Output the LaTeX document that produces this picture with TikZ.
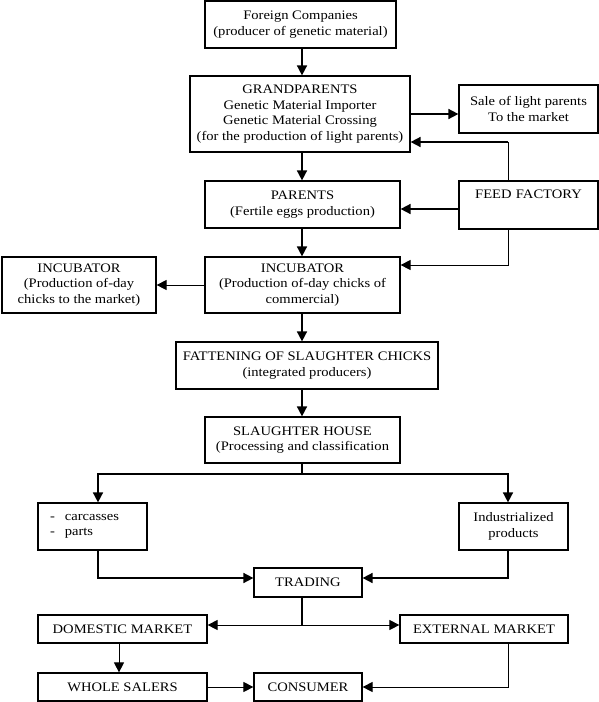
\documentclass[tikz,border=0pt]{standalone}
\usepackage{fontspec}
\setmainfont{Liberation Serif}[FakeStretch=1.12]
\usetikzlibrary{arrows.meta}
\begin{document}
\begin{tikzpicture}[x=1pt,y=-1pt,
  box/.style={draw,line width=1.2pt,align=center,inner sep=0pt,font=\fontsize{13}{15.5}\selectfont},
  thk/.style={line width=1.6pt},
  thn/.style={line width=0.9pt},
  >={Triangle[length=10pt,width=10pt]}]
\useasboundingbox (0,0) rectangle (599,702);
% boxes
\node[box,minimum width=191pt,minimum height=47pt] (fc) at (300.5,24.5) {Foreign Companies\\(producer of genetic material)};
\node[box,minimum width=220pt,minimum height=76pt] (gp) at (300,114) {GRANDPARENTS\\Genetic Material Importer\\Genetic Material Crossing\\(for the production of light parents)};
\node[box,minimum width=139pt,minimum height=48pt] (sale) at (528.5,109) {Sale of light parents\\To the market};
\node[box,minimum width=195pt,minimum height=47pt] (par) at (302.5,204.5) {PARENTS\\(Fertile eggs production)};
\node[box,minimum width=139pt,text width=139pt,text height=15pt,text depth=29pt,inner ysep=2pt] (feed) at (528.5,205) {FEED FACTORY};
\node[box,minimum width=195pt,minimum height=56pt] (inc) at (302.5,285) {INCUBATOR\\(Production of-day chicks of\\commercial)};
\node[box,minimum width=154pt,minimum height=56pt] (incl) at (79,285) {INCUBATOR\\(Production of-day\\chicks to the market)};
\node[box,minimum width=262pt,minimum height=47pt] (fat) at (307,365.5) {FATTENING OF SLAUGHTER CHICKS\\(integrated producers)};
\node[box,minimum width=195pt,minimum height=46pt] (sl) at (302.5,440) {SLAUGHTER HOUSE\\(Processing and classification};
\node[box,minimum width=109pt,minimum height=47pt,text width=85pt,align=left] (carc) at (92.5,526.5) {-\hspace{10pt}carcasses\\-\hspace{10pt}parts};
\node[box,minimum width=109pt,minimum height=47pt] (ind) at (513.5,526.5) {Industrialized\\products};
\node[box,minimum width=108pt,minimum height=29pt] (tr) at (308,582.5) {TRADING};
\node[box,minimum width=169pt,minimum height=28pt] (dom) at (122.5,629) {DOMESTIC MARKET};
\node[box,minimum width=168pt,minimum height=28pt] (ext) at (484,629) {EXTERNAL MARKET};
\node[box,minimum width=169pt,minimum height=28pt] (ws) at (122.5,687) {WHOLE SALERS};
\node[box,minimum width=108pt,minimum height=28pt] (con) at (308,687) {CONSUMER};
% helper coordinates
\coordinate (xc) at (302,0);
\coordinate (xfeed) at (508,0);
\coordinate (xl) at (98,0);
\coordinate (xdom) at (119,0);
\coordinate (yfb) at (0,142);
\coordinate (ypar) at (0,209);
\coordinate (yinc) at (0,265);
\coordinate (ysplit) at (0,474);
\coordinate (ytr) at (0,578);
\coordinate (ymk) at (0,625);
% connectors
\draw[thk,->] (fc.south -| xc) -- (gp.north -| xc);
\draw[thk,->] (gp.east) -- (gp.east -| sale.west);
\draw[thn] (feed.north -| xfeed) -- (xfeed |- yfb);
\draw[thk,->] (xfeed |- yfb) -- (gp.east |- yfb);
\draw[thk,->] (gp.south -| xc) -- (par.north -| xc);
\draw[thk,->] (feed.west |- ypar) -- (par.east |- ypar);
\draw[thn,->] (feed.south -| xfeed) |- (inc.east |- yinc);
\draw[thk,->] (par.south -| xc) -- (inc.north -| xc);
\draw[thn,->] (inc.west) -- (inc.west -| incl.east);
\draw[thk,->] (inc.south -| xc) -- (fat.north -| xc);
\draw[thk,->] (fat.south -| xc) -- (sl.north -| xc);
\draw[thk] (sl.south -| xc) -- (xc |- ysplit);
\draw[thk,->] (xc |- ysplit) -| (carc.north -| xl);
\draw[thk,->] (xc |- ysplit) -| (ind.north -| xfeed);
\draw[thk,->] (carc.south -| xl) |- (tr.west |- ytr);
\draw[thk,->] (ind.south -| xfeed) |- (tr.east |- ytr);
\draw[thk] (tr.south -| xc) -- (xc |- ymk);
\draw[thn,->] (xc |- ymk) -- (dom.east |- ymk);
\draw[thn,->] (xc |- ymk) -- (ext.west |- ymk);
\draw[thn,->] (dom.south -| xdom) -- (ws.north -| xdom);
\draw[thn,->] (ws.east) -- (con.west);
\draw[thn,->] (ext.south -| xfeed) |- (con.east);
\end{tikzpicture}
\end{document}
